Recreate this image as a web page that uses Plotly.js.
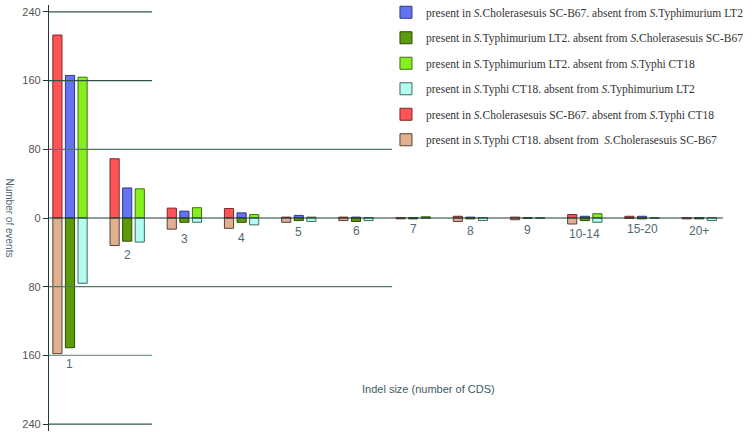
<!DOCTYPE html>
<html>
<head>
<meta charset="utf-8">
<script src="https://cdn.plot.ly/plotly-3.0.1.min.js"></script>
<style>body{margin:0;background:#fff}#chart{width:753px;height:435px}</style>
</head>
<body>
<div id="chart"></div>
<script>
// indel size classes
var sizes = ['1','2','3','4','5','6','7','8','9','10-14','15-20','20+'];

// upper half (drawn above zero)
var choNotTyphimurium = [166, 35, 8, 6, 3, 1, 0.5, 1, 0.3, 2, 2, 0.5];   // blue
var typhimuriumNotTyphi = [164, 34, 12, 4, 1, 0.5, 1.5, 0.5, 0.3, 5, 0.3, 0.3]; // light green
var choNotTyphi = [213, 69, 11.5, 11, 1, 1, 0.5, 2, 1, 4, 2, 0.5];          // red

// lower half (drawn below zero)
var typhimuriumNotCho = [151, 27, 5, 5, 3, 4, 1, 1, 0.3, 3, 1, 1];          // dark green
var typhiNotTyphimurium = [76, 28, 5, 8, 4, 3, 0.3, 3, 0.3, 5, 0.5, 3];     // cyan
var typhiNotCho = [158, 32, 13, 12, 5, 3, 1, 4, 2, 7, 0.5, 1];              // tan

var it = function(s){ return s.replace(/S\./g, '<i>S.</i>'); };
var idx = sizes.map(function(s,i){ return i; });
var neg = function(a){ return a.map(function(v){ return -v; }); };

var w = 0.16;
function barTrace(name, vals, slot, fill, edge, grp) {
  return {
    type: 'bar', x: idx, y: vals, name: it(name),
    width: w, offset: slot * 0.22 - w / 2,
    legendgroup: grp,
    marker: {color: fill, line: {color: edge, width: 1}},
    hoverinfo: 'y'
  };
}

var data = [
  barTrace('present in S.Cholerasesuis SC-B67. absent from S.Typhimurium LT2', choNotTyphimurium, 0, '#6373f2', '#2f3a80', 'a'),
  barTrace('present in S.Typhimurium LT2. absent from S.Cholerasesuis SC-B67', neg(typhimuriumNotCho), 0, '#5c9b0c', '#2c4a06', 'b'),
  barTrace('present in S.Typhimurium LT2. absent from S.Typhi CT18', typhimuriumNotTyphi, 1, '#86f01e', '#3f7010', 'c'),
  barTrace('present in S.Typhi CT18. absent from S.Typhimurium LT2', neg(typhiNotTyphimurium), 1, '#b2fdf0', '#3f6a66', 'd'),
  barTrace('present in S.Cholerasesuis SC-B67. absent from S.Typhi CT18', choNotTyphi, -1, '#ff5456', '#7a2628', 'e'),
  barTrace('present in S.Typhi CT18. absent from  S.Cholerasesuis SC-B67', neg(typhiNotCho), -1, '#e0b092', '#5a4030', 'f')
];

// size labels sit just under the deepest lower bar of each group
var annotations = sizes.map(function(s, i){
  var low = Math.max(typhimuriumNotCho[i], typhiNotTyphimurium[i], typhiNotCho[i]);
  return {x: i, y: -low, text: s, showarrow: false, yanchor: 'top', yshift: -1,
          font: {family: 'Liberation Sans, Arial', size: 12, color: '#4d6a72'}};
});
annotations.push({xref: 'paper', yref: 'paper', x: 0.559, y: 0.08, text: 'Indel size (number of CDS)',
  showarrow: false, font: {family: 'Liberation Sans, Arial', size: 11, color: '#3d5a66'}});
annotations.push({xref: 'paper', yref: 'paper', x: -47 / 678, y: 0.5, text: 'Number of events', textangle: 90,
  showarrow: false, font: {family: 'Liberation Sans, Arial', size: 10, color: '#4d6a72'}});

var gridTeal = '#2f5548';
function hline(y, x1, col) {
  return {type: 'line', xref: 'paper', yref: 'y', x0: 0, x1: x1, y0: y, y1: y, line: {color: col, width: 1.2}};
}

var layout = {
  width: 753, height: 435,
  margin: {l: 49, r: 26, t: 5, b: 4, autoexpand: false},
  barmode: 'overlay',
  showlegend: true,
  legend: {x: 0.497, y: 1.017, xanchor: 'left', yanchor: 'top',
           font: {family: 'Liberation Serif, Times New Roman', size: 11.5, color: '#333'},
           tracegroupgap: 6.5, bgcolor: 'rgba(0,0,0,0)'},
  xaxis: {range: [-0.367, 11.486], showgrid: false, zeroline: false, showticklabels: false, showline: false, ticks: ''},
  yaxis: {range: [-248, 248], showgrid: false, zeroline: false,
          tickvals: [-240, -160, -80, 0, 80, 160, 240],
          ticktext: ['240', '160', '80', '0', '80', '160', '240'],
          ticks: 'outside', ticklen: 5, tickcolor: '#1f3b36',
          showline: true, linecolor: '#1f3b36', linewidth: 1.2,
          tickfont: {family: 'Liberation Sans, Arial', size: 11, color: '#555'}},
  shapes: [
    hline(240, 0.152, gridTeal), hline(160, 0.152, gridTeal), hline(80, 0.506, '#55776e'),
    hline(-80, 0.506, '#55776e'), hline(-160, 0.152, '#7a9a98'), hline(-240, 0.152, gridTeal),
    hline(0, 0.994, '#1f3b36')
  ],
  annotations: annotations,
  plot_bgcolor: '#fff', paper_bgcolor: '#fff'
};

Plotly.newPlot('chart', data, layout, {displayModeBar: false});
</script>
</body>
</html>
